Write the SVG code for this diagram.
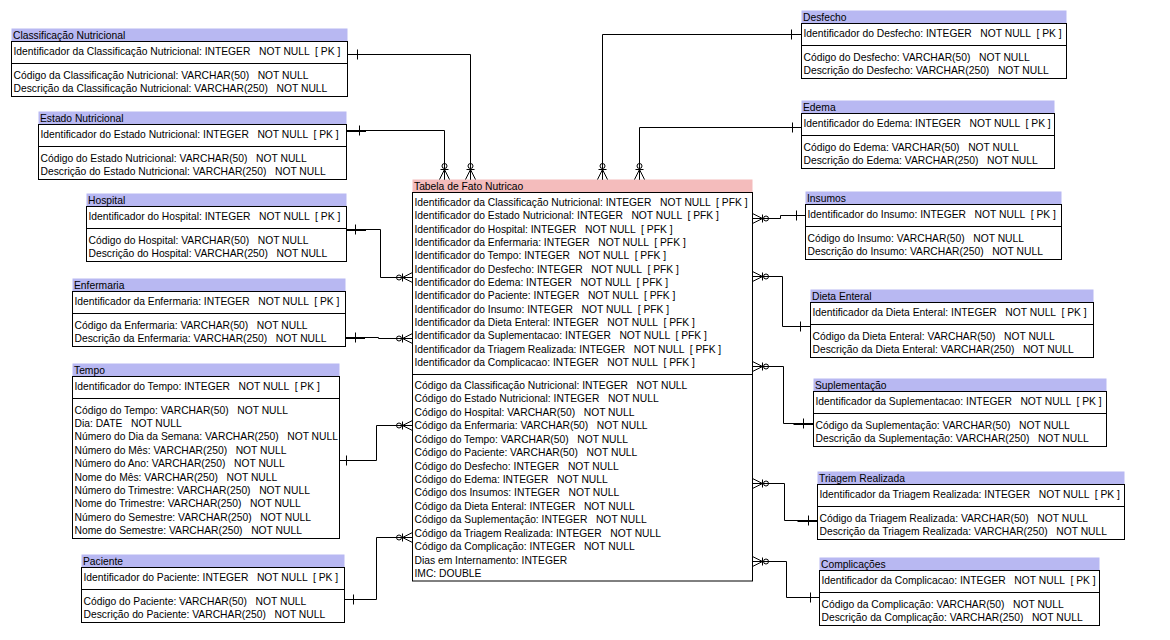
<svg xmlns="http://www.w3.org/2000/svg" xmlns:xlink="http://www.w3.org/1999/xlink" width="1170" height="640" viewBox="0 0 1170 640" xml:space="preserve">
<style>
text{font-family:"Liberation Sans",Arial,sans-serif;font-size:10.3px;fill:#000;white-space:pre}
.tb{fill:#b8b8f2}
.tf{fill:#f4bcbc}
.bx{fill:#fff;stroke:#000;stroke-width:1}
.sp{stroke:#000;stroke-width:1}
.ln{fill:none;stroke:#000;stroke-width:1}
.tk{stroke:#000;stroke-width:1}
.th{stroke:#000;stroke-width:2}
.mn line,.mn circle{fill:none;stroke:#000;stroke-width:1}
</style>
<defs>
<g id="many" class="mn">
<line x1="0" y1="-5" x2="10" y2="0"/>
<line x1="0" y1="5" x2="10" y2="0"/>
<line x1="0" y1="0" x2="10" y2="0"/>
<line x1="10" y1="-4" x2="10" y2="4"/>
<circle cx="13.5" cy="0" r="2.5"/>
</g>
</defs>
<rect width="1170" height="640" fill="#fff"/>

<g id="classificacao">
<rect class="tb" x="11.5" y="28.5" width="336" height="13"/>
<text x="13" y="38.5">Classificação Nutricional</text>
<rect class="bx" x="11.5" y="41.5" width="336" height="55"/>
<line class="sp" x1="11.5" y1="63.5" x2="347.5" y2="63.5"/>
<text x="13.5" y="55">Identificador da Classificação Nutricional: INTEGER   NOT NULL  [ PK ]</text>
<text x="13.5" y="78.5">Código da Classificação Nutricional: VARCHAR(50)   NOT NULL</text>
<text x="13.5" y="91.9">Descrição da Classificação Nutricional: VARCHAR(250)   NOT NULL</text>
</g>

<g id="estado">
<rect class="tb" x="38.5" y="111.5" width="308" height="13"/>
<text x="40" y="121.5">Estado Nutricional</text>
<rect class="bx" x="38.5" y="124.5" width="308" height="55"/>
<line class="sp" x1="38.5" y1="146.5" x2="346.5" y2="146.5"/>
<text x="40.5" y="138">Identificador do Estado Nutricional: INTEGER   NOT NULL  [ PK ]</text>
<text x="40.5" y="161.5">Código do Estado Nutricional: VARCHAR(50)   NOT NULL</text>
<text x="40.5" y="174.9">Descrição do Estado Nutricional: VARCHAR(250)   NOT NULL</text>
</g>

<g id="hospital">
<rect class="tb" x="86.5" y="193.5" width="260" height="13"/>
<text x="88" y="203.5">Hospital</text>
<rect class="bx" x="86.5" y="206.5" width="260" height="55"/>
<line class="sp" x1="86.5" y1="228.5" x2="346.5" y2="228.5"/>
<text x="88.5" y="220">Identificador do Hospital: INTEGER   NOT NULL  [ PK ]</text>
<text x="88.5" y="243.5">Código do Hospital: VARCHAR(50)   NOT NULL</text>
<text x="88.5" y="256.9">Descrição do Hospital: VARCHAR(250)   NOT NULL</text>
</g>

<g id="enfermaria">
<rect class="tb" x="72.5" y="278.5" width="273" height="13"/>
<text x="74" y="288.5">Enfermaria</text>
<rect class="bx" x="72.5" y="291.5" width="273" height="55"/>
<line class="sp" x1="72.5" y1="313.5" x2="345.5" y2="313.5"/>
<text x="74.5" y="305">Identificador da Enfermaria: INTEGER   NOT NULL  [ PK ]</text>
<text x="74.5" y="328.5">Código da Enfermaria: VARCHAR(50)   NOT NULL</text>
<text x="74.5" y="341.9">Descrição da Enfermaria: VARCHAR(250)   NOT NULL</text>
</g>

<g id="tempo">
<rect class="tb" x="72.5" y="363.5" width="267" height="13"/>
<text x="74" y="373.5">Tempo</text>
<rect class="bx" x="72.5" y="376.5" width="267" height="162"/>
<line class="sp" x1="72.5" y1="398.5" x2="339.5" y2="398.5"/>
<text x="74.5" y="390">Identificador do Tempo: INTEGER   NOT NULL  [ PK ]</text>
<text x="74.5" y="413.5">Código do Tempo: VARCHAR(50)   NOT NULL</text>
<text x="74.5" y="426.9">Dia: DATE   NOT NULL</text>
<text x="74.5" y="440.3">Número do Dia da Semana: VARCHAR(250)   NOT NULL</text>
<text x="74.5" y="453.7">Número do Mês: VARCHAR(250)   NOT NULL</text>
<text x="74.5" y="467.1">Número do Ano: VARCHAR(250)   NOT NULL</text>
<text x="74.5" y="480.5">Nome do Mês: VARCHAR(250)   NOT NULL</text>
<text x="74.5" y="493.9">Número do Trimestre: VARCHAR(250)   NOT NULL</text>
<text x="74.5" y="507.3">Nome do Trimestre: VARCHAR(250)   NOT NULL</text>
<text x="74.5" y="520.7">Número do Semestre: VARCHAR(250)   NOT NULL</text>
<text x="74.5" y="534.1">Nome do Semestre: VARCHAR(250)   NOT NULL</text>
</g>

<g id="paciente">
<rect class="tb" x="81.5" y="554.5" width="263" height="13"/>
<text x="83" y="564.5">Paciente</text>
<rect class="bx" x="81.5" y="567.5" width="263" height="55"/>
<line class="sp" x1="81.5" y1="589.5" x2="344.5" y2="589.5"/>
<text x="83.5" y="581">Identificador do Paciente: INTEGER   NOT NULL  [ PK ]</text>
<text x="83.5" y="604.5">Código do Paciente: VARCHAR(50)   NOT NULL</text>
<text x="83.5" y="617.9">Descrição do Paciente: VARCHAR(250)   NOT NULL</text>
</g>

<g id="fato">
<rect class="tf" x="412.5" y="179.5" width="340" height="13"/>
<text x="414" y="189.5">Tabela de Fato Nutricao</text>
<rect class="bx" x="412.5" y="192.5" width="340" height="388.5"/>
<line class="sp" x1="412.5" y1="374.5" x2="752.5" y2="374.5"/>
<text x="414.5" y="206">Identificador da Classificação Nutricional: INTEGER   NOT NULL  [ PFK ]</text>
<text x="414.5" y="219.3">Identificador do Estado Nutricional: INTEGER   NOT NULL  [ PFK ]</text>
<text x="414.5" y="232.7">Identificador do Hospital: INTEGER   NOT NULL  [ PFK ]</text>
<text x="414.5" y="246">Identificador da Enfermaria: INTEGER   NOT NULL  [ PFK ]</text>
<text x="414.5" y="259.3">Identificador do Tempo: INTEGER   NOT NULL  [ PFK ]</text>
<text x="414.5" y="272.7">Identificador do Desfecho: INTEGER   NOT NULL  [ PFK ]</text>
<text x="414.5" y="286">Identificador do Edema: INTEGER   NOT NULL  [ PFK ]</text>
<text x="414.5" y="299.3">Identificador do Paciente: INTEGER   NOT NULL  [ PFK ]</text>
<text x="414.5" y="312.7">Identificador do Insumo: INTEGER   NOT NULL  [ PFK ]</text>
<text x="414.5" y="326">Identificador da Dieta Enteral: INTEGER   NOT NULL  [ PFK ]</text>
<text x="414.5" y="339.3">Identificador da Suplementacao: INTEGER   NOT NULL  [ PFK ]</text>
<text x="414.5" y="352.7">Identificador da Triagem Realizada: INTEGER   NOT NULL  [ PFK ]</text>
<text x="414.5" y="366">Identificador da Complicacao: INTEGER   NOT NULL  [ PFK ]</text>
<text x="414.5" y="389">Código da Classificação Nutricional: INTEGER   NOT NULL</text>
<text x="414.5" y="402.4">Código do Estado Nutricional: INTEGER   NOT NULL</text>
<text x="414.5" y="415.9">Código do Hospital: VARCHAR(50)   NOT NULL</text>
<text x="414.5" y="429.3">Código da Enfermaria: VARCHAR(50)   NOT NULL</text>
<text x="414.5" y="442.7">Código do Tempo: VARCHAR(50)   NOT NULL</text>
<text x="414.5" y="456.2">Código do Paciente: VARCHAR(50)   NOT NULL</text>
<text x="414.5" y="469.6">Código do Desfecho: INTEGER   NOT NULL</text>
<text x="414.5" y="483">Código do Edema: INTEGER   NOT NULL</text>
<text x="414.5" y="496.4">Código dos Insumos: INTEGER   NOT NULL</text>
<text x="414.5" y="509.9">Código da Dieta Enteral: INTEGER   NOT NULL</text>
<text x="414.5" y="523.3">Código da Suplementação: INTEGER   NOT NULL</text>
<text x="414.5" y="536.7">Código da Triagem Realizada: INTEGER   NOT NULL</text>
<text x="414.5" y="550.2">Código da Complicação: INTEGER   NOT NULL</text>
<text x="414.5" y="563.6">Dias em Internamento: INTEGER</text>
<text x="414.5" y="577">IMC: DOUBLE</text>
</g>

<g id="desfecho">
<rect class="tb" x="801.5" y="10.5" width="265" height="13"/>
<text x="803" y="20.5">Desfecho</text>
<rect class="bx" x="801.5" y="23.5" width="265" height="55"/>
<line class="sp" x1="801.5" y1="45.5" x2="1066.5" y2="45.5"/>
<text x="803.5" y="37">Identificador do Desfecho: INTEGER   NOT NULL  [ PK ]</text>
<text x="803.5" y="60.5">Código do Desfecho: VARCHAR(50)   NOT NULL</text>
<text x="803.5" y="73.9">Descrição do Desfecho: VARCHAR(250)   NOT NULL</text>
</g>

<g id="edema">
<rect class="tb" x="801.5" y="100.5" width="253" height="13"/>
<text x="803" y="110.5">Edema</text>
<rect class="bx" x="801.5" y="113.5" width="253" height="55"/>
<line class="sp" x1="801.5" y1="135.5" x2="1054.5" y2="135.5"/>
<text x="803.5" y="127">Identificador do Edema: INTEGER   NOT NULL  [ PK ]</text>
<text x="803.5" y="150.5">Código do Edema: VARCHAR(50)   NOT NULL</text>
<text x="803.5" y="163.9">Descrição do Edema: VARCHAR(250)   NOT NULL</text>
</g>

<g id="insumos">
<rect class="tb" x="805.5" y="191.5" width="256" height="13"/>
<text x="807" y="201.5">Insumos</text>
<rect class="bx" x="805.5" y="204.5" width="256" height="55"/>
<line class="sp" x1="805.5" y1="226.5" x2="1061.5" y2="226.5"/>
<text x="807.5" y="218">Identificador do Insumo: INTEGER   NOT NULL  [ PK ]</text>
<text x="807.5" y="241.5">Código do Insumo: VARCHAR(50)   NOT NULL</text>
<text x="807.5" y="254.9">Descrição do Insumo: VARCHAR(250)   NOT NULL</text>
</g>

<g id="dieta">
<rect class="tb" x="810.5" y="289.5" width="283" height="13"/>
<text x="812" y="299.5">Dieta Enteral</text>
<rect class="bx" x="810.5" y="302.5" width="283" height="55"/>
<line class="sp" x1="810.5" y1="324.5" x2="1093.5" y2="324.5"/>
<text x="812.5" y="316">Identificador da Dieta Enteral: INTEGER   NOT NULL  [ PK ]</text>
<text x="812.5" y="339.5">Código da Dieta Enteral: VARCHAR(50)   NOT NULL</text>
<text x="812.5" y="352.9">Descrição da Dieta Enteral: VARCHAR(250)   NOT NULL</text>
</g>

<g id="suplementacao">
<rect class="tb" x="813.5" y="378.5" width="293" height="13"/>
<text x="815" y="388.5">Suplementação</text>
<rect class="bx" x="813.5" y="391.5" width="293" height="55"/>
<line class="sp" x1="813.5" y1="413.5" x2="1106.5" y2="413.5"/>
<text x="815.5" y="405">Identificador da Suplementacao: INTEGER   NOT NULL  [ PK ]</text>
<text x="815.5" y="428.5">Código da Suplementação: VARCHAR(50)   NOT NULL</text>
<text x="815.5" y="441.9">Descrição da Suplementação: VARCHAR(250)   NOT NULL</text>
</g>

<g id="triagem">
<rect class="tb" x="817.5" y="471.5" width="307" height="13"/>
<text x="819" y="481.5">Triagem Realizada</text>
<rect class="bx" x="817.5" y="484.5" width="307" height="55"/>
<line class="sp" x1="817.5" y1="506.5" x2="1124.5" y2="506.5"/>
<text x="819.5" y="498">Identificador da Triagem Realizada: INTEGER   NOT NULL  [ PK ]</text>
<text x="819.5" y="521.5">Código da Triagem Realizada: VARCHAR(50)   NOT NULL</text>
<text x="819.5" y="534.9">Descrição da Triagem Realizada: VARCHAR(250)   NOT NULL</text>
</g>

<g id="complicacoes">
<rect class="tb" x="819.5" y="557.5" width="280" height="13"/>
<text x="821" y="567.5">Complicações</text>
<rect class="bx" x="819.5" y="570.5" width="280" height="55"/>
<line class="sp" x1="819.5" y1="592.5" x2="1099.5" y2="592.5"/>
<text x="821.5" y="584">Identificador da Complicacao: INTEGER   NOT NULL  [ PK ]</text>
<text x="821.5" y="607.5">Código da Complicação: VARCHAR(50)   NOT NULL</text>
<text x="821.5" y="620.9">Descrição da Complicação: VARCHAR(250)   NOT NULL</text>
</g>

<g id="connectors">
<path class="ln" d="M347.5,54.5 H470.5 V179.5"/>
<line class="tk" x1="357.5" y1="49.5" x2="357.5" y2="59.5"/>
<use xlink:href="#many" transform="translate(470.5,179.5) rotate(-90)"/>

<path class="ln" d="M346.5,130.5 H444.5 V179.5"/>
<line class="th" x1="346.5" y1="131" x2="366" y2="131"/>
<line class="tk" x1="359.5" y1="125.5" x2="359.5" y2="135.5"/>
<use xlink:href="#many" transform="translate(444.5,179.5) rotate(-90)"/>

<path class="ln" d="M346.5,229.5 H380.5 V277.5 H412.5"/>
<line class="th" x1="346.5" y1="230" x2="366" y2="230"/>
<line class="tk" x1="355.5" y1="224.5" x2="355.5" y2="234.5"/>
<use xlink:href="#many" transform="translate(412.5,277.5) rotate(180)"/>

<path class="ln" d="M345.5,337.5 H378.5 V338.5 H412.5"/>
<line class="th" x1="345.5" y1="338" x2="365" y2="338"/>
<line class="tk" x1="355.5" y1="332.5" x2="355.5" y2="342.5"/>
<use xlink:href="#many" transform="translate(412.5,338.5) rotate(180)"/>

<path class="ln" d="M339.5,460.5 H376.5 V425.5 H412.5"/>
<line class="tk" x1="346.5" y1="455.5" x2="346.5" y2="465.5"/>
<use xlink:href="#many" transform="translate(412.5,425.5) rotate(180)"/>

<path class="ln" d="M344.5,599.5 H376.5 V537.5 H412.5"/>
<line class="tk" x1="353.5" y1="594.5" x2="353.5" y2="604.5"/>
<use xlink:href="#many" transform="translate(412.5,537.5) rotate(180)"/>

<path class="ln" d="M801.5,34.5 H602.5 V179.5"/>
<line class="tk" x1="791.5" y1="29.5" x2="791.5" y2="39.5"/>
<use xlink:href="#many" transform="translate(602.5,179.5) rotate(-90)"/>

<path class="ln" d="M801.5,127.5 H639.5 V179.5"/>
<line class="tk" x1="792.5" y1="122.5" x2="792.5" y2="132.5"/>
<use xlink:href="#many" transform="translate(639.5,179.5) rotate(-90)"/>

<path class="ln" d="M752.5,218.5 H780.5 V215.5 H805.5"/>
<line class="tk" x1="796.5" y1="210.5" x2="796.5" y2="220.5"/>
<use xlink:href="#many" transform="translate(752.5,218.5)"/>

<path class="ln" d="M752.5,276.5 H782.5 V326.5 H810.5"/>
<line class="tk" x1="800.5" y1="321.5" x2="800.5" y2="331.5"/>
<use xlink:href="#many" transform="translate(752.5,276.5)"/>

<path class="ln" d="M752.5,366.5 H783.5 V423.5 H813.5"/>
<line class="th" x1="793.5" y1="424" x2="813.5" y2="424"/>
<line class="tk" x1="803.5" y1="418.5" x2="803.5" y2="428.5"/>
<use xlink:href="#many" transform="translate(752.5,366.5)"/>

<path class="ln" d="M752.5,483.5 H784.5 V520.5 H817.5"/>
<line class="th" x1="797.5" y1="521" x2="817.5" y2="521"/>
<line class="tk" x1="808.5" y1="515.5" x2="808.5" y2="525.5"/>
<use xlink:href="#many" transform="translate(752.5,483.5)"/>

<path class="ln" d="M752.5,561.5 H786.5 V597.5 H819.5"/>
<line class="tk" x1="810.5" y1="592.5" x2="810.5" y2="602.5"/>
<use xlink:href="#many" transform="translate(752.5,561.5)"/>
</g>
</svg>
